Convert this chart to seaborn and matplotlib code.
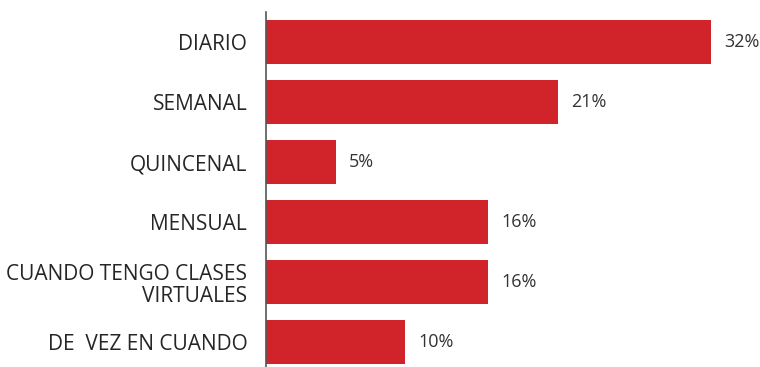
import matplotlib
matplotlib.use("Agg")
import matplotlib.pyplot as plt
import seaborn as sns
import pandas as pd

categories = ["DIARIO", "SEMANAL", "QUINCENAL", "MENSUAL",
              "CUANDO TENGO CLASES\nVIRTUALES", "DE  VEZ EN CUANDO"]
values = [32, 21, 5, 16, 16, 10]
value_labels = ["32%", "21%", "5%", "16%", "16%", "10%"]

df = pd.DataFrame({"frecuencia": categories, "porcentaje": values})

sns.set_theme(style="white")
plt.rcParams["font.family"] = ["Open Sans", "DejaVu Sans"]

W, H = 760, 367
fig = plt.figure(figsize=(W / 100, H / 100), dpi=100)
# axes box in pixel terms: left 266, top 12, rows of 60 px
left, top, right, bottom = 266, 12, 753, 372
ax = fig.add_axes([left / W, (H - bottom) / H, (right - left) / W, (bottom - top) / H])

bar_color = "#D1232A"
sns.barplot(data=df, y="frecuencia", x="porcentaje", orient="h",
            color=bar_color, width=0.73, saturation=1, linewidth=0, ax=ax)

ax.set_xlim(0, (right - left) / 13.906)
ax.set_ylim(len(categories) - 0.5, -0.5)
ax.set_xlabel("")
ax.set_ylabel("")
ax.set_xticks([])

for s in ["top", "right", "bottom"]:
    ax.spines[s].set_visible(False)
ax.spines["left"].set_color("#555555")
ax.spines["left"].set_linewidth(1.2)

ax.tick_params(axis="y", length=0, pad=13.5, labelsize=15, labelcolor="#262626")
for lbl in ax.get_yticklabels():
    lbl.set_multialignment("right")
    lbl.set_linespacing(1.1)

for i, (v, t) in enumerate(zip(values, value_labels)):
    ax.annotate(t, xy=(v, i), xytext=(13, 0), textcoords="offset pixels",
                ha="left", va="center", fontsize=13, color="#333333")

fig.savefig("out.png", dpi=100)
